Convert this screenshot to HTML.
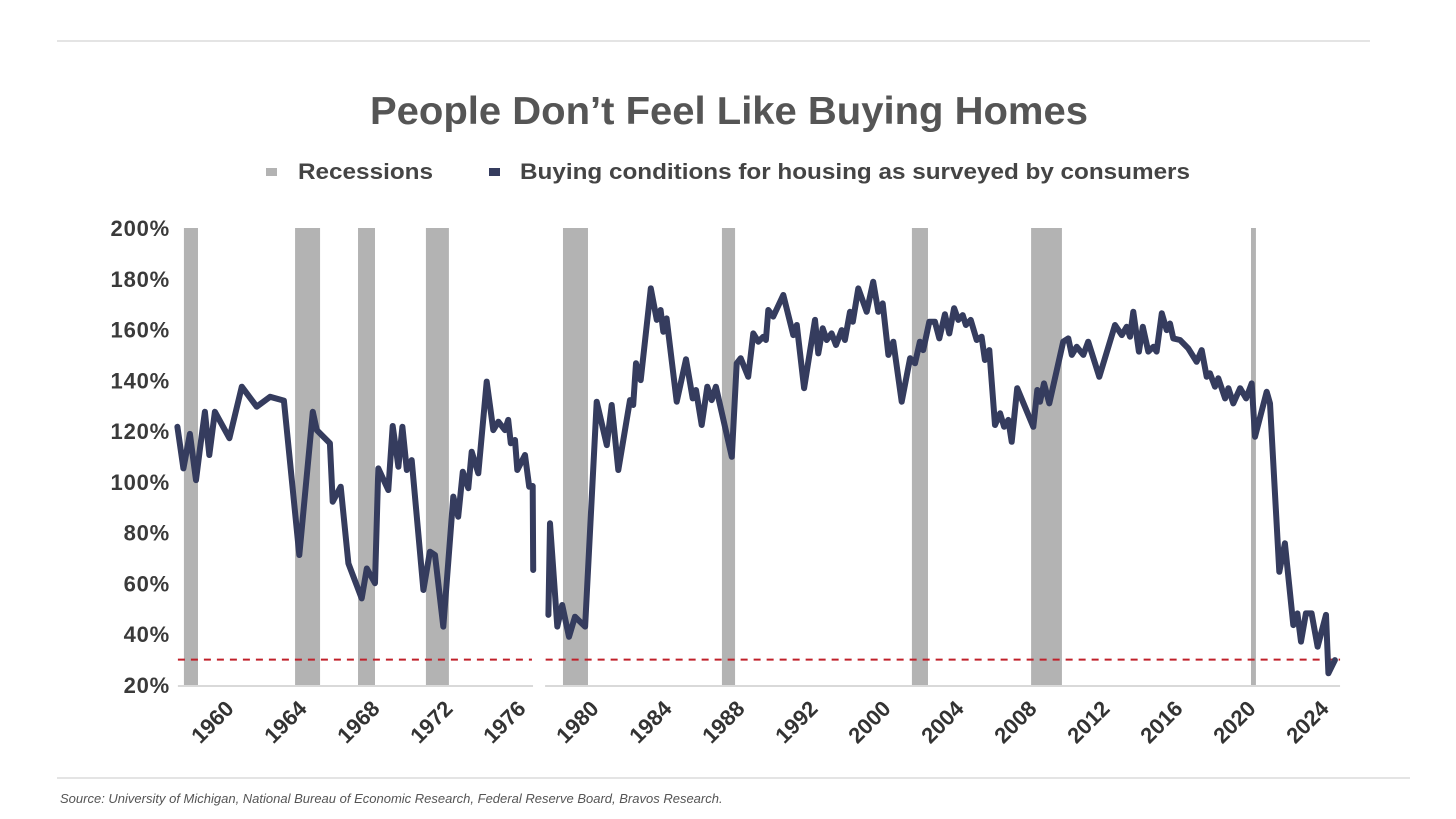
<!DOCTYPE html>
<html><head><meta charset="utf-8"><style>
html,body{margin:0;padding:0;background:#fff;}
svg{display:block;font-family:"Liberation Sans",Arial,sans-serif;}
</style></head><body>
<svg id="chart" width="1456" height="819" viewBox="0 0 1456 819" xmlns="http://www.w3.org/2000/svg">
<line x1="57" y1="41" x2="1370" y2="41" stroke="#c8c8c8" stroke-width="1"/>
<text x="729" y="124" text-anchor="middle" font-size="39" font-weight="bold" fill="#555" textLength="718" lengthAdjust="spacingAndGlyphs">People Don’t Feel Like Buying Homes</text>
<g>
<rect x="266" y="168" width="11" height="8" fill="#b3b3b3"/>
<text x="298" y="179" font-size="22" font-weight="bold" fill="#444" textLength="135" lengthAdjust="spacingAndGlyphs">Recessions</text>
<rect x="489" y="168" width="11" height="8" fill="#353c5e"/>
<text x="520" y="179" font-size="22" font-weight="bold" fill="#444" textLength="670" lengthAdjust="spacingAndGlyphs">Buying conditions for housing as surveyed by consumers</text>
</g>
<g id="plot"></g>
<line x1="57" y1="778" x2="1410" y2="778" stroke="#c8c8c8" stroke-width="1"/>
<text x="60" y="803" font-size="13" font-style="italic" fill="#555">Source: University of Michigan, National Bureau of Economic Research, Federal Reserve Board, Bravos Research.</text>
</svg>
<script>
const yTicks = [20,40,60,80,100,120,140,160,180,200];
const xTickDates = [1964,1968,1972,1976,1980,1984,1988,1992,1996,2000,2004,2008,2012,2016,2020,2024];
const xTickLabels = ["1960","1964","1968","1972","1976","1980","1984","1988","1992","2000","2004","2008","2012","2016","2020","2024"];
const recessionStarts = [1961.53,1967.62,1971.07,1974.79,1982.30,1991.01,2001.42,2007.95,2020.0];
const recessionEnds   = [1962.30,1968.99,1972.00,1976.05,1983.67,1991.73,2002.30,2009.64,2020.27];
const thresholdValue = 30;
const seg1Dates = [1961.17,1961.50,1961.86,1962.19,1962.41,1962.68,1962.92,1963.23,1964.02,1964.70,1965.52,1966.25,1967.01,1967.85,1968.59,1968.81,1969.53,1969.68,1970.12,1970.54,1971.27,1971.55,1972.00,1972.18,1972.73,1972.97,1973.28,1973.50,1973.74,1974.01,1974.65,1975.01,1975.29,1975.74,1976.29,1976.56,1976.81,1977.11,1977.30,1977.66,1978.12,1978.48,1978.76,1979.12,1979.30,1979.44,1979.67,1979.80,1980.22,1980.45,1980.64,1980.67];
const seg1Values = [121.7,105.3,118.9,100.7,113.2,127.6,110.6,127.6,117.2,137.5,129.6,133.5,132,71.2,127.6,120.4,115.2,92.2,98.1,67.9,54.1,65.9,60.1,105.3,96.8,122,106,121.7,104.7,108.6,57.4,72.5,71.2,43,94.2,86.3,104,97.5,111.9,103.4,139.5,120.4,123.7,120.4,124.4,115.2,116.5,104.7,110.6,98.1,98.4,65.3];
const seg2Dates = [1981.50,1981.59,1981.99,1982.26,1982.63,1982.96,1983.14,1983.51,1984.15,1984.70,1984.97,1985.33,1985.97,1986.15,1986.30,1986.56,1987.11,1987.44,1987.65,1987.80,1987.98,1988.53,1989.04,1989.41,1989.59,1989.90,1990.21,1990.45,1990.68,1991.55,1991.82,1992.04,1992.45,1992.73,1993.00,1993.28,1993.42,1993.55,1993.82,1994.37,1994.92,1995.11,1995.51,1996.11,1996.29,1996.53,1996.75,1997.02,1997.26,1997.57,1997.75,1998.03,1998.18,1998.48,1998.94,1999.30,1999.58,1999.82,2000.13,2000.40,2000.86,2001.32,2001.59,2001.86,2002.04,2002.37,2002.68,2002.92,2003.23,2003.47,2003.73,2003.96,2004.20,2004.38,2004.64,2004.97,2005.24,2005.42,2005.66,2005.97,2006.25,2006.47,2006.70,2006.89,2007.19,2008.07,2008.29,2008.44,2008.66,2008.95,2009.71,2009.99,2010.18,2010.45,2010.81,2011.08,2011.69,2012.55,2012.92,2013.19,2013.37,2013.55,2013.86,2014.07,2014.37,2014.65,2014.83,2015.11,2015.38,2015.56,2015.74,2016.11,2016.56,2017.02,2017.30,2017.57,2017.75,2018.03,2018.21,2018.58,2018.76,2019.03,2019.40,2019.73,2020.04,2020.22,2020.86,2021.04,2021.55,2021.86,2022.32,2022.54,2022.74,2023.01,2023.32,2023.65,2024.11,2024.24,2024.60];
const seg2Values = [47.6,83.7,43,51.5,39,46.9,45.6,43,131.6,114.5,130.3,104.7,132.2,130.3,146.7,140.1,176.2,163.8,167.7,159.1,164.4,131.6,148.3,132.9,136.2,122.4,137.5,132.2,137.5,109.9,146.7,148.7,141.4,158.5,155.2,157.2,155.9,167.7,165.1,173.6,157.8,161.8,136.9,163.8,150.6,160.5,155.9,158.5,153.9,159.8,155.9,167,163.1,176.2,167,178.8,167,170.3,150,155.2,131.6,148.7,146.7,155.2,151.9,163.1,163.1,156.5,166,158.5,168.4,163.8,165.7,161.8,163.8,155.9,157.2,148,151.9,122.4,127,121.7,124.4,115.8,136.9,121.7,136.2,131.6,138.8,130.9,155.2,156.5,150,153.2,150,155.2,141.4,161.8,157.8,161.1,157.2,167,151.3,161.1,151.3,153.2,151.3,166.4,159.8,162.4,156.5,155.9,152.6,147.3,151.9,141.4,142.8,137.5,140.8,132.9,136.9,130.9,136.9,132.9,138.8,117.8,135.5,130.9,64.6,75.8,43.6,48.2,37.1,48.2,48.2,35.1,47.6,24.6,29.8];

const NS = "http://www.w3.org/2000/svg";
const plot = document.getElementById('plot');
const X0 = 229, T0 = 1964, PXY = 18.25;
const Y0 = 685, PXV = 457/180;
function xs(t){ return X0 + (t - T0) * PXY; }
function ys(v){ return Y0 - (v - 20) * PXV; }
function mk(tag, attrs){ const e = document.createElementNS(NS, tag); for (const k in attrs) e.setAttribute(k, attrs[k]); plot.appendChild(e); return e; }

for (let i = 0; i < recessionStarts.length; i++) {
  const r = mk('rect', {x: xs(recessionStarts[i]), y: ys(200), width: xs(recessionEnds[i]) - xs(recessionStarts[i]), height: ys(20) - ys(200), fill: '#b3b3b3'});
  
  
}
const b1 = mk('line', {x1: xs(1961.2), x2: xs(1980.66), y1: ys(20)+1, y2: ys(20)+1, stroke: '#d9d9d9', 'stroke-width': 2});


const b2 = mk('line', {x1: xs(1981.32), x2: xs(2024.88), y1: ys(20)+1, y2: ys(20)+1, stroke: '#d9d9d9', 'stroke-width': 2});


const d1 = mk('line', {x1: xs(1961.2), x2: xs(1980.6), y1: ys(thresholdValue), y2: ys(thresholdValue), stroke: '#c0202a', 'stroke-width': 2, 'stroke-dasharray': '7 6'});


const d2 = mk('line', {x1: xs(1981.35), x2: xs(2024.88), y1: ys(thresholdValue), y2: ys(thresholdValue), stroke: '#c0202a', 'stroke-width': 2, 'stroke-dasharray': '7 6'});


for (const v of yTicks) {
  const t = mk('text', {x: 170, y: ys(v) + 8, 'text-anchor': 'end', 'font-size': 22, 'font-weight': 'bold', fill: '#3a3a3a', 'letter-spacing': '0.8'});
  t.textContent = v + '%';
  
  
}
for (let i = 0; i < xTickDates.length; i++) {
  const px = xs(xTickDates[i]);
  const t = mk('text', {x: 0, y: 0, 'text-anchor': 'end', 'font-size': 22, 'font-weight': 'bold', fill: '#333', transform: 'translate(' + (px + 6) + ',' + 710 + ') rotate(-45)'});
  t.textContent = xTickLabels[i];
  
  
}
function drawSeg(dates, vals){
  let d = '';
  for (let i = 0; i < dates.length; i++) d += (i ? 'L' : 'M') + xs(dates[i]).toFixed(1) + ' ' + ys(vals[i]).toFixed(1);
  const p = mk('path', {d: d, fill: 'none', stroke: '#353c5e', 'stroke-width': 6, 'stroke-linejoin': 'round', 'stroke-linecap': 'round'});
  
  
}
drawSeg(seg1Dates, seg1Values);
drawSeg(seg2Dates, seg2Values);
</script>
</body></html>
